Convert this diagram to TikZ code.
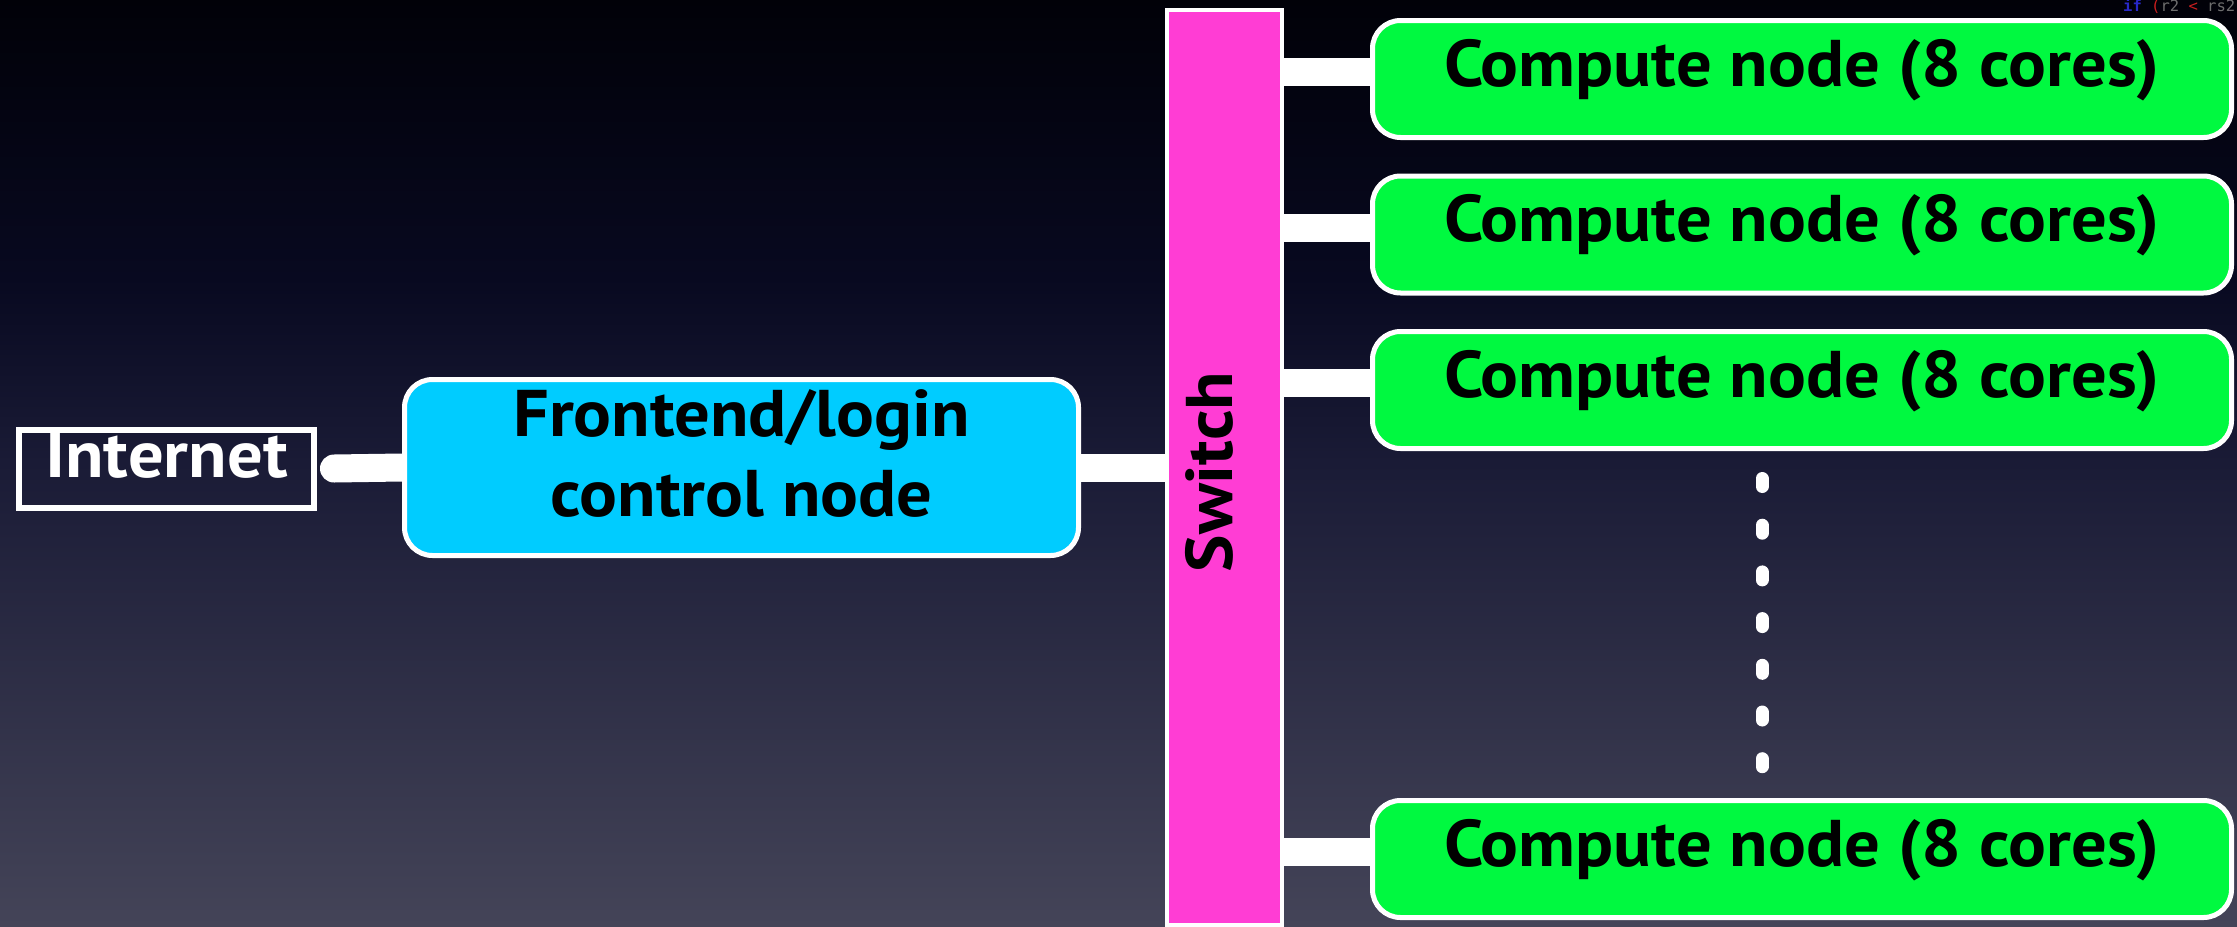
\documentclass[tikz,border=0pt]{standalone}
\usepackage{fontspec}
\setmainfont{PT Sans}[FakeStretch=1.07]
\newfontfamily\codefont{DejaVu Sans Mono}
\usetikzlibrary{calc}

\definecolor{bgA}{RGB}{1,1,8}
\definecolor{bgB}{RGB}{8,9,32}
\definecolor{bgC}{RGB}{26,27,54}
\definecolor{bgD}{RGB}{68,68,88}
\definecolor{nodegreen}{RGB}{0,249,64}
\definecolor{nodecyan}{RGB}{0,204,255}
\definecolor{switchpink}{RGB}{255,61,212}
\definecolor{kwblue}{RGB}{40,40,200}
\definecolor{opred}{RGB}{200,30,30}
\definecolor{codegrey}{RGB}{110,110,110}

% the filled path spans 25bp (bottom) to 75bp (top) of the shading
\pgfdeclareverticalshading{backdrop}{100bp}{color(0bp)=(bgD); color(25bp)=(bgD); color(50bp)=(bgC); color(60bp)=(bgB); color(75bp)=(bgA); color(100bp)=(bgA)}

\pgfdeclarelayer{backdrop}
\pgfdeclarelayer{links}
\pgfsetlayers{backdrop,links,main}

\begin{document}
\begin{tikzpicture}[
  x=1pt, y=-1pt,
  bigtext/.style={font=\bfseries\fontsize{66}{80}\selectfont},
  boxed/.style={draw=white, line width=5pt, inner sep=0pt, bigtext, text=black},
  compute/.style={boxed, fill=nodegreen, rounded corners=28pt,
    minimum width=859pt, minimum height=117pt, text height=50pt, text depth=36pt},
  link/.style={draw=white, line width=28pt},
  dots/.style={draw=white, line width=13pt, line cap=round,
    dash pattern=on 8pt off 38.7pt}
]
% backdrop
\begin{pgfonlayer}{backdrop}
  \shade[shading=backdrop] (0,0) rectangle (2237,926);
\end{pgfonlayer}
\useasboundingbox (0,0) rectangle (2237,926);

% leftover line of code in the corner
\node[anchor=base west, inner sep=0pt, font=\codefont\fontsize{15.5}{16}\selectfont]
  (code) at (2123,11) {\textcolor{kwblue}{\bfseries if} \textcolor{opred}{(}\textcolor{codegrey}{r2} \textcolor{opred}{<} \textcolor{codegrey}{rs2}};

% nodes
\node[draw=white, line width=6pt, inner sep=0pt, bigtext, text=white,
  minimum width=295pt, minimum height=77pt, text height=48pt, text depth=30pt]
  (inet) at (166.5,468.5) {Internet};

\node[boxed, fill=nodecyan, rounded corners=28pt, align=center,
  minimum width=674pt, minimum height=176pt, text height=106pt, text depth=8pt]
  (fe) at (741.5,467.5) {Frontend/login\\control node};

\node[draw=white, line width=4pt, fill=switchpink, inner sep=0pt, bigtext,
  rotate=90, minimum width=915pt, minimum height=115pt,
  text height=50pt, text depth=34pt]
  (sw) at (1224.5,467.5) {Switch\hspace*{9pt}};

\node[compute] (c1) at (1802,79)    {Compute node (8 cores)};
\node[compute] (c2) at (1802,234.5) {Compute node (8 cores)};
\node[compute] (c3) at (1802,390)   {Compute node (8 cores)};
\node[compute] (c4) at (1802,859)   {Compute node (8 cores)};

% more compute nodes
\coordinate (d1) at (1762,478.5);
\coordinate (d2) at (1762,767);
\draw[dots] (d1) -- (d2);

% connectors
\begin{pgfonlayer}{links}
  \draw[link, line cap=round] ([xshift=17pt]inet.east) -- (fe.west);
  \draw[link] (fe.east) -- (fe.east -| sw.north);
  \foreach \c in {c1,c2,c3,c4}
    \draw[link] ([yshift=7pt]\c.west) -- ([yshift=7pt]\c.west -| sw.south);
\end{pgfonlayer}
\end{tikzpicture}
\end{document}
